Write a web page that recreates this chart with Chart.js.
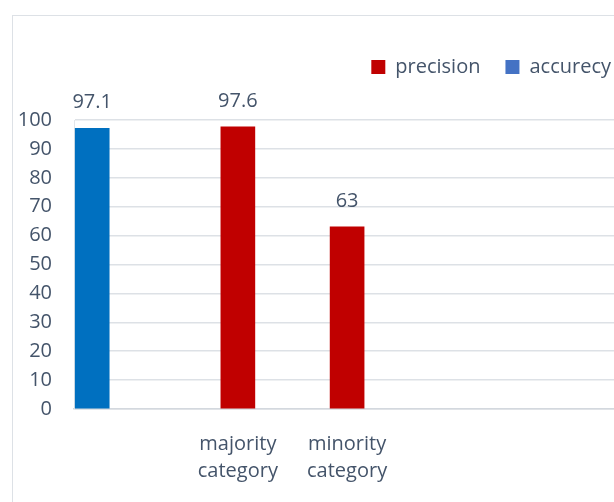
<!DOCTYPE html>
<html><head><meta charset="utf-8">
<script src="https://cdn.jsdelivr.net/npm/chart.js@4"></script>
<style>
html,body{margin:0;padding:0;background:#fff;overflow:hidden;width:614px;height:502px}
#frame{position:absolute;left:12px;top:15px;width:700px;height:600px;border:1.5px solid #dde1e6;box-sizing:border-box}
#wrap{position:absolute;left:0;top:0;width:624px;height:502px}
</style></head><body>
<div id="frame"></div>
<div id="wrap"><canvas id="c"></canvas></div>
<script>
// ---- data ----
const categories = ['', 'majority category', 'minority category'];
const precisionValues = [null, 97.6, 63];
const accuracyValues = [97.1, null, null];
const seriesNames = ['precision', 'accurecy'];
const yMin = 0, yMax = 100, yStep = 10;

// ---- layout (slot positions on the category axis, not data) ----
const slotOf = [0, 4, 7];
const slotCount = 15;

const labels = Array(slotCount).fill('');
const precData = Array(slotCount).fill(null);
const accData = Array(slotCount).fill(null);
categories.forEach((c, i) => {
  labels[slotOf[i]] = c ? c.split(' ') : '';
  precData[slotOf[i]] = precisionValues[i];
  accData[slotOf[i]] = accuracyValues[i];
});

const TEXT = '#44546a';
const FONT = 'Open Sans';
const legendColors = ['#c00000', '#4472c4'];

function patchLegend(chart) {
  const lg = chart.legend;
  if (!lg || lg._patched) return;
  lg._patched = true;
  const origFit = lg.fit;
  lg.fit = function () { origFit.call(this); this.height += 33; };
  const origDraw = lg.draw;
  lg.draw = function () {
    const ctx = this.ctx;
    ctx.save(); ctx.translate(12, 0);
    origDraw.call(this);
    ctx.restore();
  };
}

const legendSpacer = {
  id: 'legendSpacer',
  afterInit(chart) { patchLegend(chart); },
  beforeUpdate(chart) { patchLegend(chart); },
  beforeLayout(chart) { patchLegend(chart); }
};

const valueLabels = {
  id: 'valueLabels',
  afterDatasetsDraw(chart) {
    const ctx = chart.ctx;
    ctx.save();
    ctx.font = '20px "' + FONT + '"';
    ctx.fillStyle = TEXT;
    ctx.textAlign = 'center';
    ctx.textBaseline = 'middle';
    chart.data.datasets.forEach((ds, di) => {
      const meta = chart.getDatasetMeta(di);
      meta.data.forEach((el, i) => {
        const v = ds.data[i];
        if (v === null || v === undefined) return;
        ctx.fillText(String(v), el.x, el.y - 26);
      });
    });
    ctx.restore();
  }
};

new Chart(document.getElementById('c'), {
  type: 'bar',
  data: {
    labels: labels,
    datasets: [
      { label: seriesNames[0], data: precData, backgroundColor: '#c00000' },
      { label: seriesNames[1], data: accData, backgroundColor: '#0070c0' }
    ]
  },
  options: {
    responsive: true,
    maintainAspectRatio: false,
    animation: false,
    grouped: false,
    barThickness: 34,
    layout: { padding: { top: 32, left: 0, right: 0, bottom: 0 } },
    plugins: {
      tooltip: { enabled: false },
      legend: {
        position: 'top',
        align: 'end',
        labels: {
          boxWidth: 14, boxHeight: 14, padding: 25,
          color: TEXT,
          font: { family: FONT, size: 20 },
          generateLabels(chart) {
            const items = Chart.defaults.plugins.legend.labels.generateLabels(chart);
            items.forEach((it, i) => { it.fillStyle = legendColors[i]; it.strokeStyle = legendColors[i]; it.lineWidth = 0; });
            return items;
          }
        }
      }
    },
    scales: {
      x: {
        offset: true,
        grid: { display: false, drawTicks: false },
        border: { display: true, color: '#d3d8de', width: 1.5 },
        ticks: {
          autoSkip: false, maxRotation: 0, minRotation: 0, padding: 22,
          color: TEXT, font: { family: FONT, size: 20, lineHeight: 1.35 }
        },
        afterFit(s) { s.height = 93; }
      },
      y: {
        min: yMin, max: yMax,
        grid: { color: '#dde1e6', lineWidth: 1.5, drawTicks: false },
        border: { display: true, color: '#e3e6ea', width: 1 },
        ticks: { stepSize: yStep, padding: 22, color: TEXT, font: { family: FONT, size: 20 } },
        afterFit(s) { s.width = 74; }
      }
    }
  },
  plugins: [legendSpacer, valueLabels]
});
</script>
</body></html>
